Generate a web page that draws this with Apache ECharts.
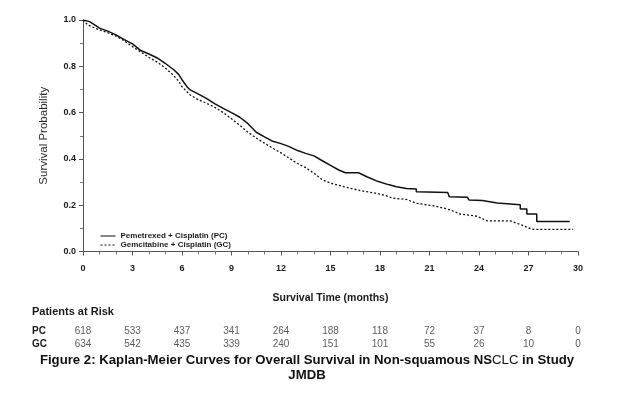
<!DOCTYPE html>
<html>
<head>
<meta charset="utf-8">
<script src="https://cdn.jsdelivr.net/npm/echarts@6/dist/echarts.min.js"></script>
<style>
  html, body { margin: 0; padding: 0; background: #fff; }
  #chart { width: 630px; height: 396px; }
</style>
</head>
<body>
<div id="chart"></div>
<script>
// Kaplan-Meier curves: [months, survival]
// repeated months in the tail are the visible steps
var pcCurve = [
    [0, 1.0], [0.4, 0.993], [0.8, 0.975], [1.0, 0.965], [1.5, 0.952], [2.0, 0.936],
    [2.5, 0.915], [3.0, 0.897], [3.5, 0.868], [4.0, 0.853], [4.5, 0.836], [5.0, 0.812],
    [5.5, 0.785], [5.8, 0.765], [6.0, 0.742], [6.3, 0.712], [6.5, 0.698], [7.0, 0.680],
    [7.5, 0.660], [8.0, 0.638], [8.5, 0.618], [9.0, 0.600], [9.5, 0.580], [10.0, 0.552],
    [10.5, 0.515], [11.0, 0.495], [11.5, 0.476], [12.0, 0.466], [12.5, 0.453], [13.0, 0.436],
    [13.5, 0.424], [14.0, 0.413], [14.5, 0.392], [15.0, 0.372], [15.5, 0.352], [15.9, 0.340],
    [16.7, 0.340], [17.2, 0.323], [17.9, 0.302], [18.5, 0.289], [19.0, 0.280], [19.6, 0.272],
    [20.2, 0.270], [20.2, 0.258], [22.1, 0.255], [22.2, 0.237], [23.3, 0.234], [23.4, 0.222],
    [24.2, 0.220], [24.3, 0.212], [25.1, 0.210], [25.2, 0.202], [26.5, 0.202], [26.5, 0.184],
    [26.9, 0.184], [26.9, 0.162], [27.5, 0.162], [27.5, 0.130], [29.5, 0.130]
]
var gcCurve = [
    [0, 1.0], [0.3, 0.978], [1.0, 0.957], [1.5, 0.945], [2.0, 0.930], [2.5, 0.910],
    [3.0, 0.885], [3.5, 0.862], [4.0, 0.838], [4.5, 0.818], [5.0, 0.792], [5.5, 0.760],
    [5.8, 0.735], [6.0, 0.712], [6.3, 0.690], [6.5, 0.676], [7.0, 0.655], [7.5, 0.640],
    [8.0, 0.622], [8.5, 0.600], [9.0, 0.573], [9.5, 0.545], [10.0, 0.515], [10.5, 0.490],
    [11.0, 0.468], [11.5, 0.446], [12.0, 0.426], [12.5, 0.403], [13.0, 0.380], [13.5, 0.362],
    [14.0, 0.338], [14.5, 0.310], [15.0, 0.295], [15.8, 0.280], [16.8, 0.263], [17.8, 0.251],
    [18.4, 0.240], [18.8, 0.230], [19.6, 0.225], [20.2, 0.208], [21.2, 0.198], [22.0, 0.185],
    [22.4, 0.176], [22.85, 0.162], [23.9, 0.152], [24.5, 0.132], [25.9, 0.132], [26.6, 0.114],
    [27.2, 0.096], [29.7, 0.096]
]
// patients at risk table
var riskTimes = [0, 3, 6, 9, 12, 15, 18, 21, 24, 27, 30]
var pcRisk = [618, 533, 437, 341, 264, 188, 118, 72, 37, 8, 0]
var gcRisk = [634, 542, 435, 339, 240, 151, 101, 55, 26, 10, 0]
var riskRows = ['PC', 'GC']
var seriesNames = ['Pemetrexed + Cisplatin (PC)', 'Gemcitabine + Cisplatin (GC)']

var font = 'Liberation Sans, Arial, sans-serif'
var ink = '#1a1a1a'

var riskData = []
riskTimes.forEach(function(t, i) {
    riskData.push([t, 'PC', pcRisk[i]])
    riskData.push([t, 'GC', gcRisk[i]])
})

var chart = echarts.init(document.getElementById('chart'))
chart.setOption({
    animation: false,
    backgroundColor: '#fff',
    textStyle: { fontFamily: font },
    grid: [
        { left: 83, right: 52, top: 20, height: 231.5 },
        { left: 83, right: 52, top: 324, height: 27 }
    ],
    xAxis: [{
        type: 'value', gridIndex: 0, min: 0, max: 30, interval: 3,
        name: 'Survival Time (months)', nameLocation: 'middle', nameGap: 41,
        nameTextStyle: { fontSize: 10.5, fontWeight: 'bold', color: ink },
        axisLine: { lineStyle: { color: '#555', width: 1 } },
        axisTick: { length: 4, lineStyle: { color: '#555' } },
        minorTick: { show: true, splitNumber: 3, length: 3, lineStyle: { color: '#777' } },
        splitLine: { show: false },
        axisLabel: { fontSize: 9, fontWeight: 'bold', color: ink, margin: 13 }
    }, {
        type: 'value', gridIndex: 1, min: 0, max: 30, show: false
    }],
    yAxis: [{
        type: 'value', gridIndex: 0, min: 0, max: 1, interval: 0.2,
        name: 'Survival Probability', nameLocation: 'middle', nameGap: 33,
        nameTextStyle: { fontSize: 11.5, color: '#2a2a2a' },
        axisLine: { show: true, lineStyle: { color: '#555', width: 1 } },
        axisTick: { show: true, length: 4, lineStyle: { color: '#555' } },
        minorTick: { show: true, splitNumber: 2, length: 3, lineStyle: { color: '#777' } },
        splitLine: { show: false },
        axisLabel: {
            fontSize: 9, fontWeight: 'bold', color: ink, margin: 7,
            formatter: function(v) { return v.toFixed(1) }
        }
    }, {
        type: 'category', gridIndex: 1, data: riskRows, inverse: true,
        axisLine: { show: false }, axisTick: { show: false }, splitLine: { show: false },
        axisLabel: { align: 'left', margin: 51, fontSize: 10, fontWeight: 'bold', color: ink }
    }],
    legend: {
        data: seriesNames,
        orient: 'vertical', left: 95, top: 227,
        itemWidth: 15, itemHeight: 10, itemGap: 1,
        itemStyle: { opacity: 0 },
        lineStyle: { width: 1 },
        textStyle: { fontSize: 8, fontWeight: 'bold', color: ink }
    },
    title: {
        text: 'Patients at Risk', left: 32, top: 306, padding: 0,
        textStyle: { fontSize: 11, fontWeight: 'bold', color: ink }
    },
    graphic: [{
        type: 'text', x: 307, y: 360,
        style: {
            text: '{b|Figure 2: Kaplan-Meier Curves for Overall Survival in Non-squamous NS}{n|CLC}{b| in Study}',
            align: 'center', verticalAlign: 'middle',
            rich: {
                b: { fontSize: 13.2, fontWeight: 'bold', fontFamily: font, fill: '#111' },
                n: { fontSize: 13.2, fontWeight: 'normal', fontFamily: font, fill: '#111' }
            }
        }
    }, {
        type: 'text', x: 307, y: 375,
        style: {
            text: 'JMDB', align: 'center', verticalAlign: 'middle',
            fontSize: 13.2, fontWeight: 'bold', fontFamily: font, fill: '#111'
        }
    }],
    series: [{
        name: seriesNames[0], type: 'line',
        xAxisIndex: 0, yAxisIndex: 0,
        data: pcCurve, symbol: 'none',
        lineStyle: { color: '#111', width: 1.5, type: 'solid' },
        itemStyle: { color: '#111' }
    }, {
        name: seriesNames[1], type: 'line',
        xAxisIndex: 0, yAxisIndex: 0,
        data: gcCurve, symbol: 'none',
        lineStyle: { color: '#111', width: 1.3, type: [2, 2] },
        itemStyle: { color: '#111' }
    }, {
        type: 'scatter', xAxisIndex: 1, yAxisIndex: 1,
        data: riskData, symbolSize: 0, silent: true,
        label: {
            show: true, position: 'inside', fontSize: 10, color: '#333',
            formatter: function(p) { return p.value[2] }
        }
    }]
})
</script>
</body>
</html>
